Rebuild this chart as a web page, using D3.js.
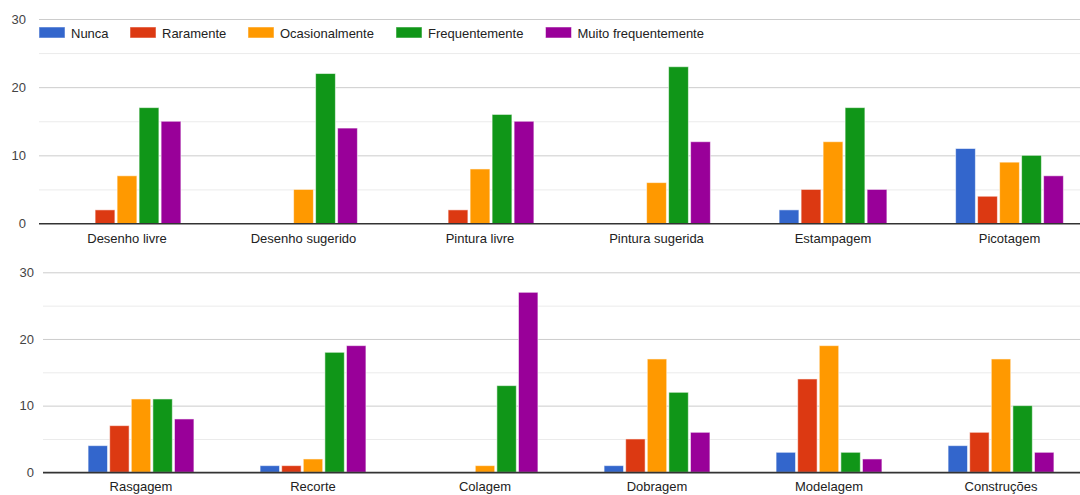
<!DOCTYPE html>
<html><head><meta charset="utf-8">
<script src="https://cdn.jsdelivr.net/npm/d3@7"></script>
<style>
html,body{margin:0;padding:0;background:#fff;overflow:hidden}
svg{display:block;font-family:"Liberation Sans",Arial,sans-serif}
</style></head>
<body>
<svg id="chart" width="1080" height="495"></svg>
<script>
const series = ["Nunca","Raramente","Ocasionalmente","Frequentemente","Muito frequentemente"];
const colors = ["#3366cc","#dc3912","#ff9900","#109618","#990099"];
const yTicks = [0,5,10,15,20,25,30];

const topCategories = ["Desenho livre","Desenho sugerido","Pintura livre","Pintura sugerida","Estampagem","Picotagem"];
const topNunca   = [0,0,0,0,2,11];
const topRara    = [2,0,2,0,5,4];
const topOcas    = [7,5,8,6,12,9];
const topFreq    = [17,22,16,23,17,10];
const topMuito   = [15,14,15,12,5,7];

const botCategories = ["Rasgagem","Recorte","Colagem","Dobragem","Modelagem","Construções"];
const botNunca   = [4,1,0,1,3,4];
const botRara    = [7,1,0,5,14,6];
const botOcas    = [11,2,1,17,19,17];
const botFreq    = [11,18,13,12,3,10];
const botMuito   = [8,19,27,6,2,3];

const svg = d3.select("#chart");

function panel(cfg){
  const g = svg.append("g");
  const y = d3.scaleLinear().domain([0,30]).range([cfg.y0, cfg.y30]);
  const x = d3.scaleBand().domain(cfg.categories).range([cfg.bx0, cfg.bx1]).padding(0);
  const xi = d3.scaleBand().domain(series).range([-cfg.half, cfg.half]).paddingInner(0.1).paddingOuter(0.05);

  // gridlines + y labels
  const ax = d3.axisLeft(y).tickValues(yTicks).tickSize(-(1100 - cfg.gx)).tickPadding(cfg.tickPad)
    .tickFormat(d => d % 10 === 0 ? d : "");
  const ay = g.append("g").attr("transform", `translate(${cfg.gx},0)`).call(ax);
  ay.select(".domain").remove();
  ay.selectAll(".tick line")
    .attr("stroke", d => d === 0 ? "#333" : (d % 10 === 0 ? "#cccccc" : "#ebebeb"))
    .attr("stroke-width", d => d === 0 ? 1.2 : 1);
  ay.selectAll(".tick text").attr("fill","#444").attr("font-size",13)
    .attr("font-family","'Liberation Sans',Arial,sans-serif");

  // bars
  const rows = cfg.categories.map((c,i)=>({cat:c, vals: cfg.values.map(v=>v[i])}));
  const grp = g.append("g").selectAll("g").data(rows).join("g")
    .attr("transform", d => `translate(${x(d.cat) + x.bandwidth()/2},0)`);
  grp.selectAll("rect").data(d => d.vals.map((v,k)=>({s:series[k], v, k})).filter(e=>e.v>0)).join("rect")
    .attr("x", d => xi(d.s))
    .attr("width", xi.bandwidth())
    .attr("y", d => y(d.v))
    .attr("height", d => y(0) - y(d.v))
    .attr("fill", d => colors[d.k])
    .attr("stroke", "#ffffff").attr("stroke-opacity", 0.55).attr("stroke-width", 1);

  // baseline on top
  g.append("line").attr("x1", cfg.gx).attr("x2", 1100).attr("y1", y(0)).attr("y2", y(0))
    .attr("stroke","#333").attr("stroke-width",1.2);

  // category labels
  const axb = d3.axisBottom(x).tickSize(0).tickPadding(cfg.labPad);
  const ab = g.append("g").attr("transform", `translate(0,${y(0)})`).call(axb);
  ab.select(".domain").remove();
  ab.selectAll(".tick text").attr("fill","#222").attr("font-size",13)
    .attr("font-family","'Liberation Sans',Arial,sans-serif");
}

panel({categories: topCategories, values:[topNunca,topRara,topOcas,topFreq,topMuito],
  y0:223.5, y30:19, bx0:38.75, bx1:1097.75, half:55, gx:39, tickPad:13, labPad:10});
panel({categories: botCategories, values:[botNunca,botRara,botOcas,botFreq,botMuito],
  y0:472.3, y30:272.3, bx0:55, bx1:1087, half:54, gx:43, tickPad:9, labPad:9});

// legend
const legX = [39,130,248,396,545.5];
const leg = svg.append("g").selectAll("g").data(series).join("g")
  .attr("transform",(d,i)=>`translate(${legX[i]},27)`);
leg.append("rect").attr("width",26).attr("height",11).attr("fill",(d,i)=>colors[i])
  .attr("stroke","#fff").attr("stroke-opacity",0.5);
leg.append("text").attr("x",32).attr("y",10.5).attr("font-size",13).attr("fill","#222").text(d=>d);
</script>
</body></html>
